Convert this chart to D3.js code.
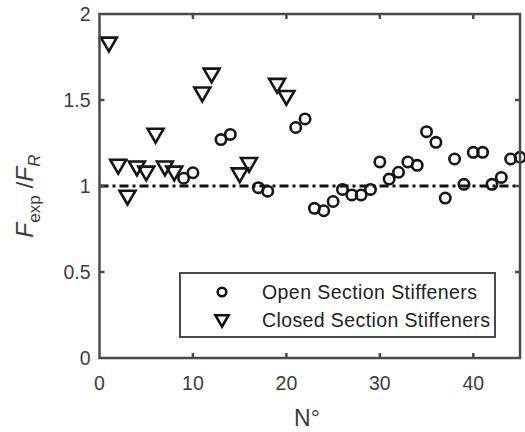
<!DOCTYPE html>
<html>
<head>
<meta charset="utf-8">
<script src="https://cdn.jsdelivr.net/npm/d3@7"></script>
<style>
  body { margin: 0; background: #fff; }
  text { font-family: Arial, "Liberation Sans", sans-serif; }
</style>
</head>
<body>
<script>
// closed section stiffeners (triangles)
const closedN = [1, 2, 3, 4, 5, 6, 7, 8, 11, 12, 15, 16, 19, 20];
const closedV = [1.83, 1.12, 0.94, 1.11, 1.08, 1.30, 1.11, 1.08, 1.54, 1.65, 1.07, 1.13, 1.59, 1.52];

// open section stiffeners (circles)
const openN = [9, 10, 13, 14, 17, 18, 21, 22, 23, 24, 25, 26, 27, 28, 29, 30, 31, 32, 33, 34,
  35, 36, 37, 38, 39, 40, 41, 42, 43, 44, 45];
const openV = [1.045, 1.077, 1.27, 1.30, 0.99, 0.97, 1.34, 1.39, 0.87, 0.856, 0.91, 0.98, 0.948, 0.948,
  0.98, 1.14, 1.04, 1.08, 1.14, 1.12, 1.316, 1.254, 0.93, 1.157, 1.01, 1.196, 1.196, 1.01, 1.05, 1.157, 1.167];

const xTicks = [0, 10, 20, 30, 40];
const yTicks = [0, 0.5, 1, 1.5, 2];
const legendLabels = ["Open Section Stiffeners", "Closed Section Stiffeners"];

const W = 525, H = 432;
const m = {left: 99.5, right: 5, top: 14, bottom: 74};

const svg = d3.select('body').append('svg')
    .attr("width", W)
    .attr("height", H);

const x = d3.scaleLinear().domain([0, 45]).range([m.left, W - m.right]);
const y = d3.scaleLinear().domain([0, 2]).range([H - m.bottom, m.top]);

const axisCol = "#4a4a4a", textCol = "#3c3c3c";

// reference line at 1
svg.append("line")
    .attr("x1", x(0)).attr("x2", x(45))
    .attr("y1", y(1)).attr("y2", y(1))
    .attr("stroke", "#111").attr("stroke-width", 2.8)
    .attr("stroke-dasharray", "9,4,3,4");

const tri = d3.symbol().type(d3.symbolTriangle).size(110);

// closed = downward triangles
svg.append("g").selectAll("path")
    .data(closedN.map((n, i) => [n, closedV[i]]))
    .join("path")
    .attr("d", tri)
    .attr("transform", d => `translate(${x(d[0])},${y(d[1]) - 1}) rotate(180)`)
    .attr("fill", "none").attr("stroke", "#151515").attr("stroke-width", 2.6);

// open = circles
svg.append("g").selectAll("circle")
    .data(openN.map((n, i) => [n, openV[i]]))
    .join("circle")
    .attr("cx", d => x(d[0]))
    .attr("cy", d => y(d[1]))
    .attr("r", 5.2)
    .attr("fill", "none").attr("stroke", "#151515").attr("stroke-width", 2.6);

// axes (box with inward ticks)
const gAx = svg.append("g");
gAx.append("rect")
    .attr("x", x(0)).attr("y", y(2))
    .attr("width", x(45) - x(0)).attr("height", y(0) - y(2))
    .attr("fill", "none").attr("stroke", axisCol).attr("stroke-width", 2.5);

const tl = 5;
xTicks.forEach(t => {
  if (t === 0) return;
  gAx.append("line").attr("x1", x(t)).attr("x2", x(t)).attr("y1", y(0)).attr("y2", y(0) - tl)
      .attr("stroke", axisCol).attr("stroke-width", 2.5);
  gAx.append("line").attr("x1", x(t)).attr("x2", x(t)).attr("y1", y(2)).attr("y2", y(2) + tl)
      .attr("stroke", axisCol).attr("stroke-width", 2.5);
});
yTicks.forEach(t => {
  if (t === 0 || t === 2) return;
  gAx.append("line").attr("x1", x(0)).attr("x2", x(0) + tl).attr("y1", y(t)).attr("y2", y(t))
      .attr("stroke", axisCol).attr("stroke-width", 2.5);
  gAx.append("line").attr("x1", x(45)).attr("x2", x(45) - tl).attr("y1", y(t)).attr("y2", y(t))
      .attr("stroke", axisCol).attr("stroke-width", 2.5);
});

// tick labels
svg.append("g").selectAll("text")
    .data(xTicks).join("text")
    .attr("x", d => x(d)).attr("y", y(0) + 32)
    .attr("text-anchor", "middle")
    .attr("font-size", 19.5).attr("fill", textCol)
    .text(d => d);

svg.append("g").selectAll("text")
    .data(yTicks).join("text")
    .attr("x", x(0) - 9).attr("y", d => y(d) + 7)
    .attr("text-anchor", "end")
    .attr("font-size", 19.5).attr("fill", textCol)
    .text(d => d);

// axis titles
svg.append("text")
    .attr("x", 307).attr("y", 426)
    .attr("text-anchor", "middle")
    .attr("font-size", 23).attr("fill", textCol)
    .text("N°");

const yl = svg.append("text")
    .attr("transform", `translate(33,196) rotate(-90)`)
    .attr("text-anchor", "middle")
    .attr("font-size", 24.5).attr("fill", textCol);
yl.append("tspan").attr("font-style", "italic").text("F");
yl.append("tspan").attr("font-size", 17).attr("dy", 7).text("exp");
yl.append("tspan").attr("dy", -7).text(" /");
yl.append("tspan").attr("font-style", "italic").text("F");
yl.append("tspan").attr("font-size", 17).attr("dy", 7).attr("font-style", "italic").text("R");

// legend
const lg = svg.append("g");
lg.append("rect")
    .attr("x", 180).attr("y", 273).attr("width", 315).attr("height", 64)
    .attr("fill", "#fff").attr("stroke", axisCol).attr("stroke-width", 2);

lg.append("circle").attr("cx", 222).attr("cy", 292).attr("r", 4.3)
    .attr("fill", "none").attr("stroke", "#111").attr("stroke-width", 2.6);
lg.append("path").attr("d", d3.symbol().type(d3.symbolTriangle).size(75))
    .attr("transform", "translate(222,319) rotate(180)")
    .attr("fill", "none").attr("stroke", "#111").attr("stroke-width", 2.6);

const legW = [215, 228];
lg.selectAll("text.lab").data(legendLabels).join("text")
    .attr("class", "lab")
    .attr("x", 262).attr("y", (d, i) => 299 + i * 28)
    .attr("font-size", 19.5).attr("fill", "#222")
    .attr("textLength", (d, i) => legW[i])
    .attr("lengthAdjust", "spacing")
    .text(d => d);
</script>
</body>
</html>
